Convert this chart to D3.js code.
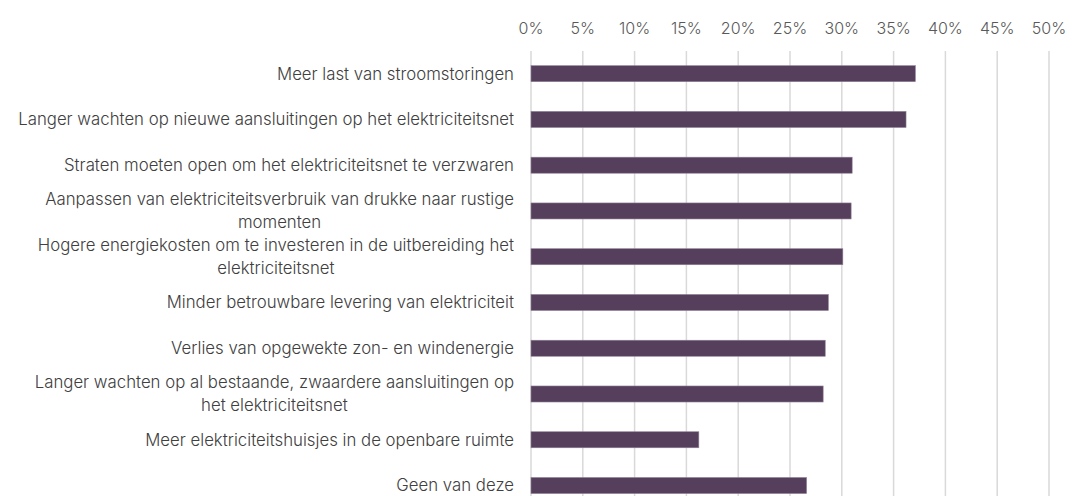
<!DOCTYPE html>
<html lang="nl">
<head>
  <meta charset="UTF-8">
  <title>Gevolgen netcongestie</title>
  <style>
    body, html {
      margin: 0;
      padding: 0;
      background: #fff;
      font-family: Inter, Lato, sans-serif;
    }
  </style>
</head>
<body>
  <svg id="svg" width="1089" height="496"></svg>

  <script src="https://cdn.jsdelivr.net/npm/d3@7"></script>
  <script>
    // categories, line breaks as in the original chart
    const categories = [
      'Meer last van stroomstoringen',
      'Langer wachten op nieuwe aansluitingen op het elektriciteitsnet',
      'Straten moeten open om het elektriciteitsnet te verzwaren',
      'Aanpassen van elektriciteitsverbruik van drukke naar rustige\nmomenten',
      'Hogere energiekosten om te investeren in de uitbereiding het\nelektriciteitsnet',
      'Minder betrouwbare levering van elektriciteit',
      'Verlies van opgewekte zon- en windenergie',
      'Langer wachten op al bestaande, zwaardere aansluitingen op\nhet elektriciteitsnet',
      'Meer elektriciteitshuisjes in de openbare ruimte',
      'Geen van deze'
    ]
    const values = [37.1, 36.2, 31.0, 30.9, 30.1, 28.7, 28.4, 28.2, 16.2, 26.6]
    const ticks = [0, 5, 10, 15, 20, 25, 30, 35, 40, 45, 50]

    const svg = d3.select('#svg')

    const x = d3.scaleLinear()
      .domain([0, 50])
      .range([531, 1049])

    const y = d3.scaleBand()
      .domain(categories)
      .range([50.8, 508.4])
      .paddingInner(0.65)
      .paddingOuter(0.325)

    // gridlines
    svg.append('g')
      .selectAll('line')
      .data(ticks)
      .enter()
      .append('line')
      .attr('x1', d => x(d))
      .attr('x2', d => x(d))
      .attr('y1', 51)
      .attr('y2', 496)
      .attr('stroke', '#d9d9d9')
      .attr('stroke-width', 1.5)

    // top axis labels
    svg.append('g')
      .selectAll('text')
      .data(ticks)
      .enter()
      .append('text')
      .text(d => d + '%')
      .attr('x', d => x(d))
      .attr('y', 33.5)
      .attr('text-anchor', 'middle')
      .attr('fill', '#595959')
      .style('font-size', '16px')
      .style('font-weight', 300)

    // bars
    svg.append('g')
      .selectAll('rect')
      .data(values)
      .enter()
      .append('rect')
      .attr('x', x(0))
      .attr('y', (d, i) => y(categories[i]))
      .attr('width', d => x(d) - x(0))
      .attr('height', y.bandwidth())
      .attr('fill', '#553f5c')
      .attr('stroke', '#8e7f93')
      .attr('stroke-width', 0.6)

    // category labels
    const labelRight = 514
    const lineGap = 23
    const labels = svg.append('g')
      .style('font-size', '16.8px')
      .style('font-weight', 300)
      .attr('fill', '#404040')

    categories.forEach(c => {
      const lines = c.split('\n')
      const cy = y(c) + y.bandwidth() / 2
      const g = labels.append('text')
        .attr('text-anchor', 'middle')
      lines.forEach((l, j) => {
        g.append('tspan')
          .text(l)
          .attr('y', cy + (j - (lines.length - 1) / 2) * lineGap)
          .attr('dy', '0.35em')
      })
      const w = d3.max(g.selectAll('tspan').nodes(), n => n.getComputedTextLength())
      g.selectAll('tspan').attr('x', labelRight - w / 2)
    })
  </script>
</body>
</html>
